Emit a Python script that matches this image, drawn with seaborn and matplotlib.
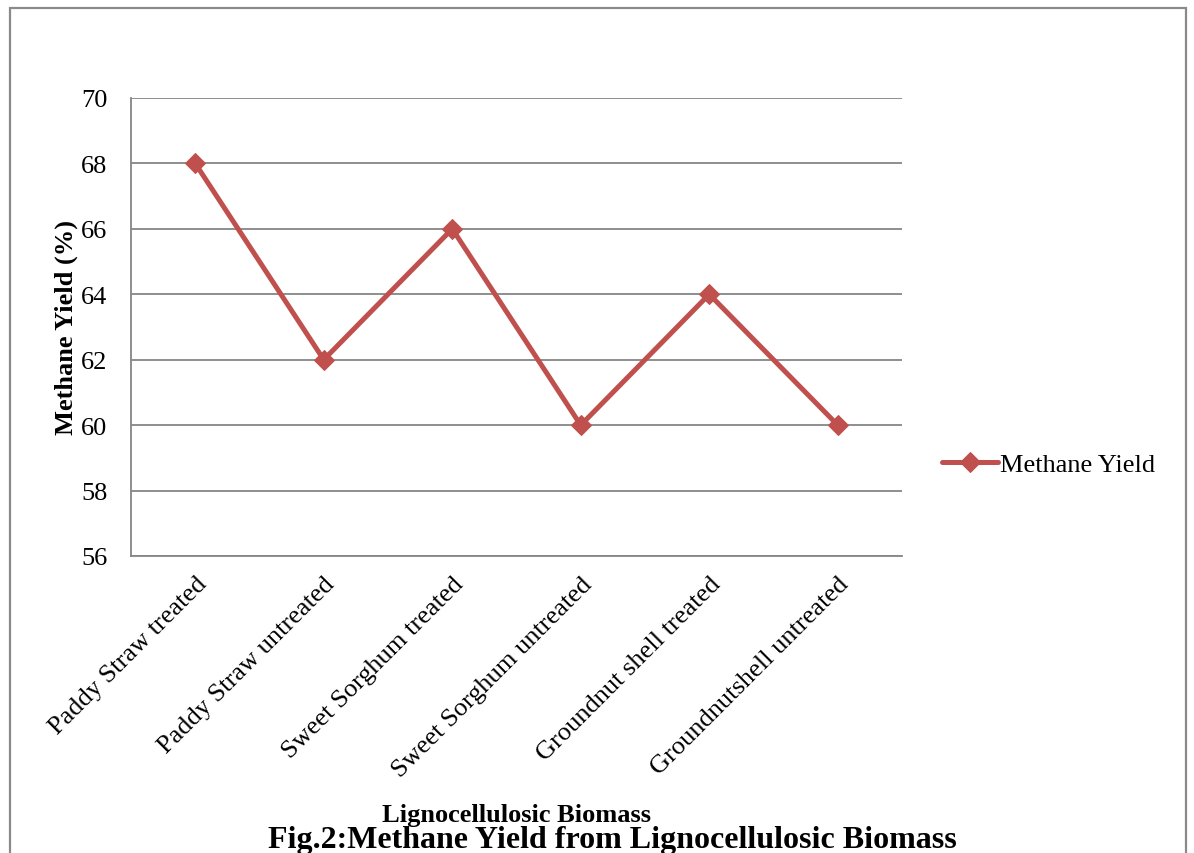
import matplotlib
matplotlib.use("Agg")
import matplotlib.pyplot as plt
import seaborn as sns
import pandas as pd
from matplotlib.patches import Rectangle

# data
biomass = ["Paddy Straw treated", "Paddy Straw untreated", "Sweet Sorghum treated",
           "Sweet Sorghum untreated", "Groundnut shell treated", "Groundnutshell untreated"]
methane_yield = [68, 62, 66, 60, 64, 60]
y_ticks = [56, 58, 60, 62, 64, 66, 68, 70]

df = pd.DataFrame({"biomass": biomass, "yield": methane_yield})

sns.set_style("white")
plt.rcParams["font.family"] = ["Liberation Serif", "DejaVu Serif"]
plt.rcParams["text.color"] = "black"
plt.rcParams["axes.labelcolor"] = "black"
plt.rcParams["xtick.color"] = "black"
plt.rcParams["ytick.color"] = "black"

fig = plt.figure(figsize=(11.94, 8.54), dpi=100)
ax = fig.add_axes([131/1194, 1-557/854, (902-131)/1194, (557-99)/854])

line_col = "#C0504D"
grid_col = "#868686"
fs = 19

sns.lineplot(data=df, x="biomass", y="yield", ax=ax, color=line_col, lw=3.6,
             marker="D", markersize=10.5, markeredgecolor=line_col,
             label="Methane Yield", sort=False)

ax.set_xlim(-0.5, len(biomass) - 0.5)
ax.set_ylim(56, 70)
ax.set_yticks(y_ticks)
ax.set_yticklabels([str(t) for t in y_ticks], fontsize=fs)
ax.set_xticks(range(len(biomass)))
ax.set_xticklabels(biomass, rotation=45, ha="right", rotation_mode="anchor", fontsize=fs)
ax.tick_params(axis="x", length=0, pad=12)
ax.tick_params(axis="y", length=7, width=1.3, color=grid_col, labelcolor="black",
               direction="out", pad=10)

ax.yaxis.grid(True, color=grid_col, lw=1.3)
ax.set_axisbelow(True)
for s in ["top", "right"]:
    ax.spines[s].set_visible(False)
for s in ["left", "bottom"]:
    ax.spines[s].set_color(grid_col)
    ax.spines[s].set_linewidth(1.3)

ax.set_xlabel("")
ax.set_ylabel("Methane Yield (%)", fontsize=fs, fontweight="bold", labelpad=2)

ax.legend(loc="center left", bbox_to_anchor=(1.052, 0.20), frameon=False,
          fontsize=fs, handlelength=2.1, handletextpad=0.1,
          borderpad=0, borderaxespad=0)

fig.text(516/1194, 1-816/854, "Lignocellulosic Biomass", ha="center", va="center",
         fontsize=19, fontweight="bold")
fig.text(612/1194, 1-841/854, "Fig.2:Methane Yield from Lignocellulosic Biomass",
         ha="center", va="center", fontsize=23, fontweight="bold")

# outer chart border
fig.patches.append(Rectangle((10/1194, -0.05), (1186-10)/1194, 1.05-9/854,
                             transform=fig.transFigure, fill=False,
                             edgecolor="#8A8A8A", lw=1.6))

fig.savefig("out.png", dpi=100)
